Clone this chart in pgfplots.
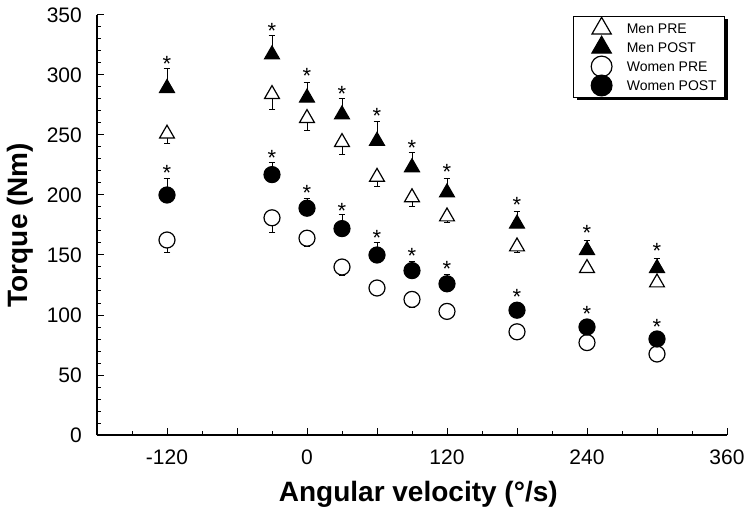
\documentclass[border=0pt]{standalone}
\usepackage{pgfplots}
\pgfplotsset{compat=1.18}
\usepackage{pgfplotstable}
\usepackage{fontspec}
\setmainfont{Liberation Sans}
\usetikzlibrary{shadows}

\pgfplotstableread{
x y e
-120 251 8
-30 284 13
0 264 10
30 244 10
60 215 8
90 198 8
120 182 5
180 157 5
240 139 2
300 127 2
}\menpre
\pgfplotstableread{
x y e
-120 289 16
-30 317 16
0 281 13
30 267 13
60 245 16
90 223 12
120 202 12
180 176 10
240 154 8
300 139 8
}\menpost
\pgfplotstableread{
x y e
-120 162.5 10.5
-30 181 12
0 164 7
30 140 7
60 122.5 3
90 113 7
120 103 3
180 86 3
240 77 3
300 67.5 3
}\womenpre
\pgfplotstableread{
x y e
-120 200 14
-30 217 10
0 189 8
30 172 12
60 150 10
90 137 8
120 126 8
180 104 3
240 90 3
300 80 3
}\womenpost
\pgfplotstableread{
x y
-120 313
-30 341
0 303
30 288
60 270
90 243
120 223
180 196
240 172
300 157
-120 222
-30 235
0 206
30 191
60 168
90 153
120 142.5
180 119
240 105
300 94
}\stars

\begin{document}
\begin{tikzpicture}
\path[use as bounding box] (-97pt,-79pt) rectangle (657pt,435pt);
\begin{axis}[
  at={(0pt,0pt)}, anchor=south west,
  scale only axis, width=630pt, height=420pt,
  xmin=-180, xmax=360, ymin=0, ymax=350,
  clip=false,
  axis x line*=bottom, axis y line*=left,
  axis line style={line width=1.5pt, -},
  xtick pos=bottom, ytick pos=left,
  tick align=inside,
  major tick length=7pt, minor tick length=4pt,
  every tick/.style={line width=1pt, black},
  xtick={-180,-120,...,360},
  minor xtick={-150,-90,...,330},
  xticklabels={,-120,,0,,120,,240,,360},
  ytick={0,50,...,350},
  minor y tick num=4,
  /pgf/number format/assume math mode=true,
  tick label style={font=\fontsize{21}{21}\selectfont},
  xticklabel style={anchor=base, inner sep=0pt, yshift=-29pt},
  yticklabel style={anchor=east, inner sep=0pt, xshift=-15pt},
  xlabel={Angular velocity (°/s)},
  ylabel={Torque (Nm)},
  xlabel style={at={(axis description cs:0.51,0)}, anchor=base, yshift=-66pt,
    font=\fontsize{28}{28}\selectfont\bfseries},
  every axis y label/.style={at={(axis description cs:-0.1111,0.5)}, rotate=90, anchor=base,
    font=\fontsize{28}{28}\selectfont\bfseries},
  legend cell align=left,
  legend image code/.code={%
    \pgfpathrectangle{\pgfpoint{-25pt}{-9.5pt}}{\pgfpoint{34pt}{19pt}}%
    \pgfusepath{use as bounding box}%
    \draw[#1, every mark/.append style={scale=1.3}] plot coordinates {(0pt,0pt)};},
  legend style={at={(axis description cs:1,1)}, anchor=north east,
    xshift=-2pt, yshift=-1pt,
    draw=black, line width=1pt, fill=white,
    drop shadow={shadow xshift=3pt, shadow yshift=-3pt, fill=black, opacity=1},
    font=\fontsize{14}{14}\selectfont,
    inner xsep=3pt, inner ysep=2.5pt, row sep=0pt, column sep=11.5pt,
    nodes={inner xsep=4.7pt, inner ysep=0pt, text height=10pt, text depth=0pt}},
  error bars/error bar style={line width=1pt, black},
  error bars/error mark options={line width=1pt, black, mark size=3.4pt, rotate=90},
]
% error bars first
\addplot[only marks, mark=none, forget plot, error bars/.cd, y dir=minus, y explicit]
  table[x=x, y=y, y error=e] {\menpre};
\addplot[only marks, mark=none, forget plot, error bars/.cd, y dir=plus, y explicit]
  table[x=x, y=y, y error=e] {\menpost};
\addplot[only marks, mark=none, forget plot, error bars/.cd, y dir=minus, y explicit]
  table[x=x, y=y, y error=e] {\womenpre};
\addplot[only marks, mark=none, forget plot, error bars/.cd, y dir=plus, y explicit]
  table[x=x, y=y, y error=e] {\womenpost};
% markers
\addplot[only marks, mark=triangle*, mark size=8.6pt,
  mark options={fill=white, draw=black, line width=1.2pt}]
  table[x=x, y=y] {\menpre};
\addlegendentry{Men PRE}
\addplot[only marks, mark=triangle*, mark size=8.6pt,
  mark options={fill=black, draw=black, line width=1.2pt}]
  table[x=x, y=y] {\menpost};
\addlegendentry{Men POST}
\addplot[only marks, mark=*, mark size=8pt,
  mark options={fill=white, draw=black, line width=1.2pt}]
  table[x=x, y=y] {\womenpre};
\addlegendentry{Women PRE}
\addplot[only marks, mark=*, mark size=8pt,
  mark options={fill=black, draw=black, line width=1.2pt}]
  table[x=x, y=y] {\womenpost};
\addlegendentry{Women POST}
% significance stars
\addplot[only marks, forget plot, mark=text, text mark={*}, text mark as node=true,
  text mark style={anchor=center, inner sep=0pt, yshift=-4.7pt,
    font=\fontsize{22}{22}\selectfont}]
  table[x=x, y=y] {\stars};
\end{axis}
\end{tikzpicture}
\end{document}
